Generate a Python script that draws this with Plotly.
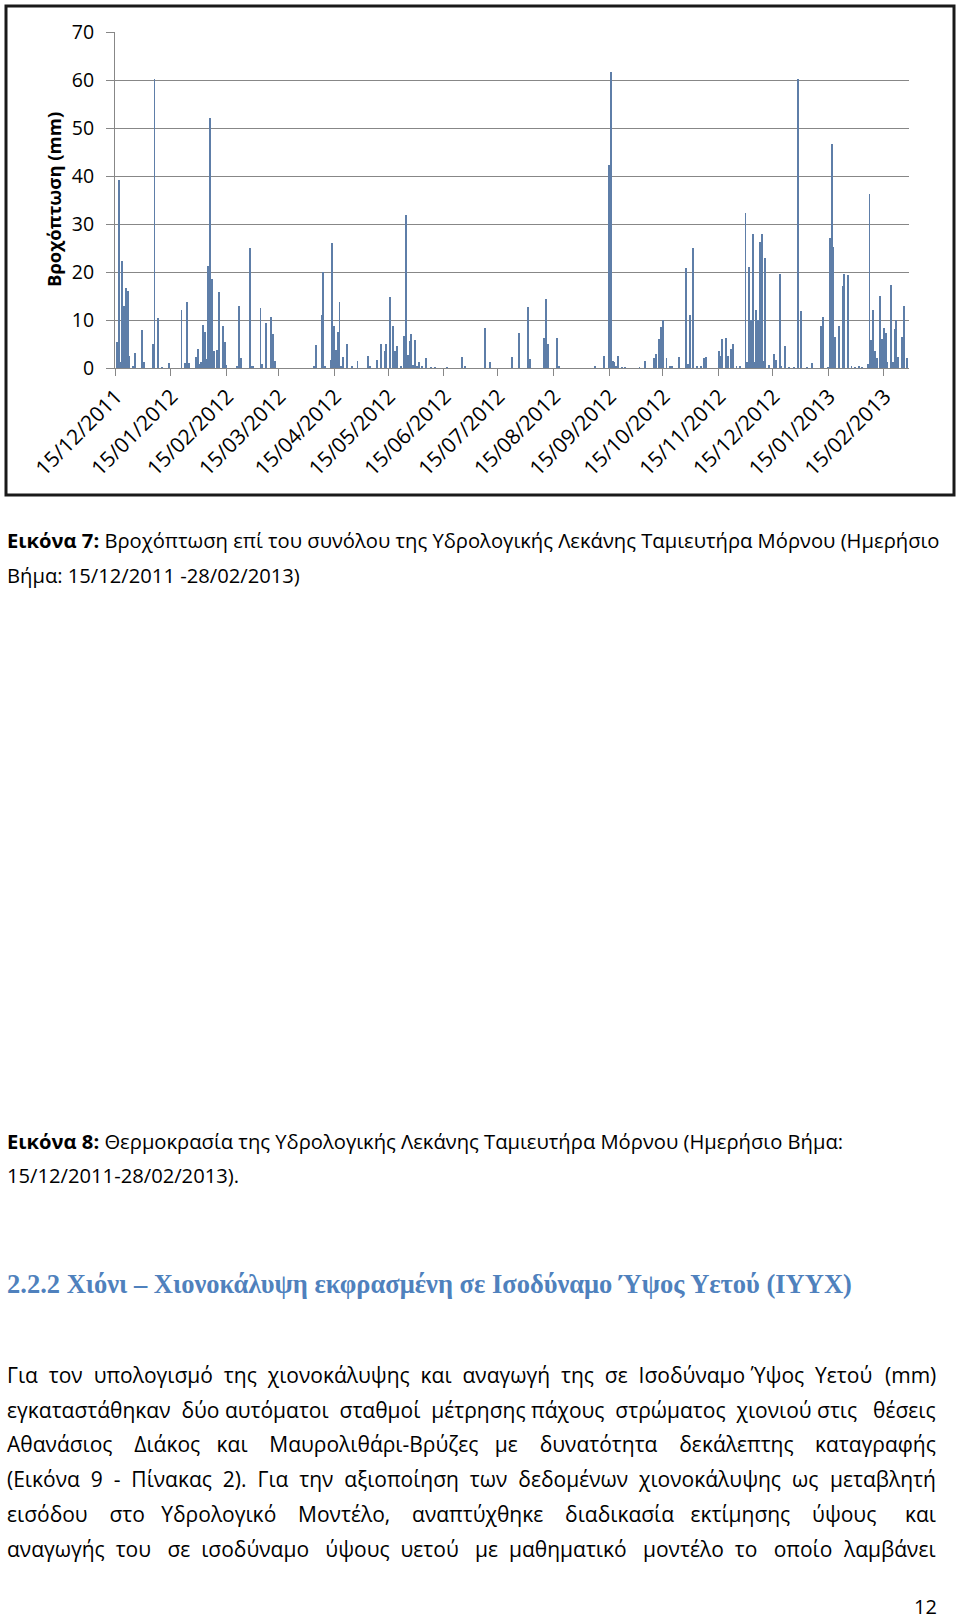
import plotly.graph_objects as go

# ---------------- data ----------------
rain_dates = [
    "2011-12-16", "2011-12-17", "2011-12-18", "2011-12-19", "2011-12-20", "2011-12-21", "2011-12-22",
    "2011-12-23", "2011-12-25", "2011-12-26", "2011-12-30", "2011-12-31",
    "2012-01-05", "2012-01-06", "2012-01-08", "2012-01-10", "2012-01-14", "2012-01-21", "2012-01-23",
    "2012-01-24", "2012-01-25", "2012-01-29", "2012-01-30", "2012-01-31",
    "2012-02-01", "2012-02-02", "2012-02-03", "2012-02-04", "2012-02-05", "2012-02-06", "2012-02-07",
    "2012-02-08", "2012-02-10", "2012-02-11", "2012-02-13", "2012-02-14", "2012-02-15", "2012-02-21",
    "2012-02-22", "2012-02-23", "2012-02-28", "2012-02-29",
    "2012-03-01", "2012-03-05", "2012-03-06", "2012-03-08", "2012-03-11", "2012-03-12", "2012-03-13",
    "2012-04-04", "2012-04-05", "2012-04-08", "2012-04-09", "2012-04-10", "2012-04-13", "2012-04-14",
    "2012-04-15", "2012-04-16", "2012-04-17", "2012-04-18", "2012-04-19", "2012-04-20", "2012-04-22",
    "2012-04-25", "2012-04-28",
    "2012-05-04", "2012-05-05", "2012-05-09", "2012-05-11", "2012-05-13", "2012-05-14", "2012-05-16",
    "2012-05-18", "2012-05-19", "2012-05-20", "2012-05-22", "2012-05-24", "2012-05-25", "2012-05-26",
    "2012-05-27", "2012-05-28", "2012-05-29", "2012-05-30", "2012-05-31",
    "2012-06-01", "2012-06-03", "2012-06-05", "2012-06-08", "2012-06-10", "2012-06-17", "2012-06-25",
    "2012-06-27",
    "2012-07-08", "2012-07-11", "2012-07-23", "2012-07-27",
    "2012-08-01", "2012-08-02", "2012-08-10", "2012-08-11", "2012-08-12", "2012-08-17", "2012-08-18",
    "2012-09-07", "2012-09-12", "2012-09-15", "2012-09-16", "2012-09-17", "2012-09-18", "2012-09-19",
    "2012-09-20", "2012-09-22", "2012-09-24",
    "2012-10-02", "2012-10-05", "2012-10-10", "2012-10-11", "2012-10-13", "2012-10-14", "2012-10-15",
    "2012-10-17", "2012-10-19", "2012-10-20", "2012-10-24", "2012-10-28", "2012-10-29", "2012-10-30",
    "2012-11-01", "2012-11-03", "2012-11-05", "2012-11-07", "2012-11-08", "2012-11-15", "2012-11-16",
    "2012-11-17", "2012-11-19", "2012-11-20", "2012-11-22", "2012-11-23", "2012-11-25", "2012-11-27",
    "2012-11-30",
    "2012-12-01", "2012-12-02", "2012-12-03", "2012-12-04", "2012-12-05", "2012-12-06", "2012-12-07",
    "2012-12-08", "2012-12-09", "2012-12-10", "2012-12-11", "2012-12-13", "2012-12-16", "2012-12-17",
    "2012-12-19", "2012-12-20", "2012-12-22", "2012-12-24", "2012-12-27", "2012-12-29", "2012-12-31",
    "2013-01-03", "2013-01-06", "2013-01-11", "2013-01-12", "2013-01-15", "2013-01-16", "2013-01-17",
    "2013-01-18", "2013-01-19", "2013-01-21", "2013-01-23", "2013-01-24", "2013-01-26", "2013-01-28",
    "2013-01-30",
    "2013-02-01", "2013-02-03", "2013-02-06", "2013-02-07", "2013-02-08", "2013-02-09", "2013-02-10",
    "2013-02-11", "2013-02-13", "2013-02-14", "2013-02-15", "2013-02-16", "2013-02-17", "2013-02-19",
    "2013-02-20", "2013-02-21", "2013-02-22", "2013-02-23", "2013-02-25", "2013-02-26", "2013-02-28",
]
rain_mm = [
    5.4, 39.2, 1.2, 22.2, 12.9, 16.7, 16.0,
    2.5, 0.3, 3.2, 7.9, 1.2,
    5.1, 60.3, 10.4, 0.2, 1.1, 12.0, 1.0,
    13.7, 1.0, 2.2, 4.0, 0.8,
    1.2, 9.0, 7.6, 1.9, 21.3, 52.1, 18.6,
    3.6, 3.8, 15.8, 8.8, 5.5, 0.6, 0.5,
    12.9, 2.1, 25.0, 0.5,
    0.3, 12.4, 0.8, 9.3, 10.7, 7.0, 1.4,
    0.5, 4.8, 11.1, 20.0, 0.4, 1.7, 26.0,
    8.8, 3.8, 7.6, 13.7, 0.3, 2.2, 5.1,
    0.3, 1.4,
    2.6, 0.3, 1.7, 5.0, 3.6, 5.1, 14.7,
    8.8, 3.6, 4.5, 0.5, 6.7, 31.8, 2.8,
    5.7, 7.0, 0.6, 5.8, 0.4,
    1.2, 0.3, 2.0, 0.2, 0.2, 0.2, 2.2,
    0.3,
    8.3, 1.2, 2.2, 7.2,
    12.7, 1.8, 6.3, 14.3, 5.0, 6.3, 0.3,
    0.3, 2.5, 42.2, 61.7, 1.5, 1.2, 0.4,
    2.4, 0.2, 0.2,
    0.2, 1.5, 2.0, 2.9, 6.0, 8.6, 10.0,
    2.1, 0.3, 0.3, 2.2, 20.8, 0.8, 11.1,
    25.0, 0.3, 0.4, 2.0, 2.2, 3.6, 2.6,
    6.0, 6.3, 2.6, 4.0, 4.9, 0.3, 0.3,
    32.3,
    1.2, 21.1, 10.1, 28.0, 1.2, 12.1, 10.0,
    26.2, 28.0, 1.4, 23.0, 0.6, 2.9, 1.7,
    19.6, 0.3, 4.5, 0.2, 0.2, 60.3, 11.8,
    0.2, 1.0, 8.8, 10.6, 0.2, 27.1, 46.6,
    25.2, 6.5, 8.8, 17.0, 19.6, 19.3, 0.3,
    0.2,
    0.3, 0.2, 0.8, 36.2, 5.8, 12.1, 3.6,
    2.0, 15.1, 6.0, 8.3, 7.2, 1.2, 17.3,
    1.2, 8.1, 9.9, 2.2, 6.5, 13.0, 2.0,
]
tick_dates = [
    "2011-12-15", "2012-01-15", "2012-02-15", "2012-03-15", "2012-04-15", "2012-05-15",
    "2012-06-15", "2012-07-15", "2012-08-15", "2012-09-15", "2012-10-15", "2012-11-15",
    "2012-12-15", "2013-01-15", "2013-02-15",
]
tick_labels = [
    "15/12/2011", "15/01/2012", "15/02/2012", "15/03/2012", "15/04/2012", "15/05/2012",
    "15/06/2012", "15/07/2012", "15/08/2012", "15/09/2012", "15/10/2012", "15/11/2012",
    "15/12/2012", "15/01/2013", "15/02/2013",
]
y_ticks = [0, 10, 20, 30, 40, 50, 60, 70]
y_title = "Βροχόπτωση (mm)"

caption7 = ["<b>Εικόνα 7:</b> Βροχόπτωση επί του συνόλου της Υδρολογικής Λεκάνης Ταμιευτήρα Μόρνου (Ημερήσιο",
            "Βήμα: 15/12/2011 -28/02/2013)"]
caption8 = ["<b>Εικόνα 8:</b> Θερμοκρασία της Υδρολογικής Λεκάνης Ταμιευτήρα Μόρνου (Ημερήσιο Βήμα:",
            "15/12/2011-28/02/2013)."]
heading = "2.2.2 Χιόνι – Χιονοκάλυψη εκφρασμένη σε Ισοδύναμο Ύψος Υετού (ΙΥΥΧ)"
paragraph = [
    "Για τον υπολογισμό της χιονοκάλυψης και αναγωγή της σε Ισοδύναμο Ύψος Υετού (mm)",
    "εγκαταστάθηκαν δύο αυτόματοι σταθμοί μέτρησης πάχους στρώματος χιονιού στις θέσεις",
    "Αθανάσιος Διάκος και Μαυρολιθάρι-Βρύζες με δυνατότητα δεκάλεπτης καταγραφής",
    "(Εικόνα 9 - Πίνακας 2). Για την αξιοποίηση των δεδομένων χιονοκάλυψης ως μεταβλητή",
    "εισόδου στο Υδρολογικό Μοντέλο, αναπτύχθηκε διαδικασία εκτίμησης ύψους και",
    "αναγωγής του σε ισοδύναμο ύψους υετού με μαθηματικό μοντέλο το οποίο λαμβάνει",
]
page_number = "12"

# ---------------- layout geometry (pixels) ----------------
W, H = 960, 1621
L, R, T, B = 115, 909, 32, 368


def px(x):
    return (x - L) / (R - L)


def py(y):
    return (B - y) / (B - T)


TXT_FONT = "Open Sans"
GRID = "#878787"
PARA_SIZE = 21
SPACE_W = 0.26 * PARA_SIZE
# approximate natural widths (px) of the paragraph lines at PARA_SIZE, used for justification
natural_w = [871, 900, 834, 867, 815, 845]
TEXT_LEFT, TEXT_RIGHT = 5, 938

fig = go.Figure()
fig.add_trace(go.Bar(
    x=rain_dates, y=rain_mm,
    width=0.5 * 86400000,
    marker=dict(color="#5E7EA8", line=dict(width=0)),
    showlegend=False,
))

annotations = []
annotations.append(dict(x=px(53), y=py(200), xref="paper", yref="paper", text="<b>%s</b>" % y_title,
                        textangle=-90, showarrow=False, xanchor="center", yanchor="middle",
                        font=dict(family=TXT_FONT, size=18.5, color="#000")))


def line(text, x, y, size, color="#000", family=TXT_FONT, anchor="left", yanchor="middle", pad=1):
    annotations.append(dict(x=px(x), y=py(y), xref="paper", yref="paper", text=text, showarrow=False,
                            xanchor=anchor, yanchor=yanchor, align=anchor, borderpad=pad,
                            font=dict(family=family, size=size, color=color)))


line(caption7[0], 5, 540, 20.2)
line(caption7[1], 5, 575, 20.2)
line(caption8[0], 5, 1141, 20.2)
line(caption8[1], 5, 1175, 20.2)
line("<b>%s</b>" % heading, 5, 1284, 26.5, color="#4F81BD", family="Liberation Serif")

for i, t in enumerate(paragraph):
    y = 1375 + i * 34.7
    words = t.split()
    n_gaps = len(words) - 1
    extra = max(0, TEXT_RIGHT - TEXT_LEFT - natural_w[i])
    left_gaps = n_gaps - 1
    per_gap = extra / n_gaps / SPACE_W
    parts = []
    for k, wd in enumerate(words[:-1]):
        parts.append(wd)
        if k < left_gaps:
            add = int(round((k + 1) * per_gap)) - int(round(k * per_gap))
            parts.append(" " + "\u00a0" * add)
    line("".join(parts), TEXT_LEFT, y, PARA_SIZE)
    line(words[-1], TEXT_RIGHT, y, PARA_SIZE, anchor="right")

line(page_number, 938, 1621, 20, anchor="right", yanchor="bottom", pad=0)

shapes = [dict(type="rect", xref="paper", yref="paper", x0=px(6), x1=px(954), y0=py(6), y1=py(495),
               line=dict(color="#1a1a1a", width=3), layer="above")]

fig.update_layout(
    width=W, height=H,
    margin=dict(l=L, r=W - R, t=T, b=H - B),
    paper_bgcolor="white", plot_bgcolor="white",
    bargap=0,
    annotations=annotations, shapes=shapes,
    xaxis=dict(
        type="date", range=["2011-12-15", "2013-03-01"],
        tickvals=tick_dates, ticktext=tick_labels, tickangle=-45,
        tickfont=dict(family=TXT_FONT, size=21, color="#000"),
        ticks="outside", ticklen=7, tickcolor=GRID,
        ticklabelshift=1, ticklabelstandoff=0,
        showline=True, linecolor=GRID, linewidth=1,
        showgrid=False, zeroline=False, automargin=False,
    ),
    yaxis=dict(
        range=[0, 70], tickvals=y_ticks,
        tickfont=dict(family=TXT_FONT, size=19.5, color="#000"),
        ticks="outside", ticklen=8, tickcolor=GRID,
        showline=True, linecolor=GRID, linewidth=1,
        showgrid=True, gridcolor=GRID, gridwidth=1,
        zeroline=False, automargin=False, ticklabelstandoff=8,
    ),
)

fig.write_html("out.html", config={"displayModeBar": False},
               post_script="document.body.style.margin='0';document.body.style.overflow='hidden';")
